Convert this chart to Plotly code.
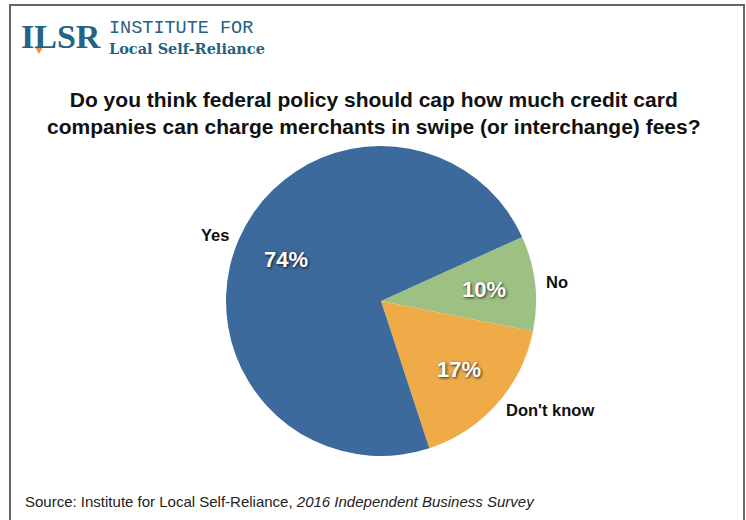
import math
import plotly.graph_objects as go

labels = ["No", "Don't know", "Yes"]
values = [10, 17, 74]
pct_text = ["10%", "17%", "74%"]
colors = ["#9dc183", "#eeab48", "#3d6a9c"]

W, H = 746, 520
cx, cy, r = 381, 301, 155  # pie centre / radius in pixels (from top-left)
start_angle = 65.6
dom_x = [(cx - r) / W, (cx + r) / W]
dom_y = [(H - cy - r) / H, (H - cy + r) / H]

fig = go.Figure()
fig.add_trace(go.Pie(
    labels=labels, values=values, text=pct_text, textinfo="none",
    sort=False, direction="clockwise", rotation=start_angle,
    marker=dict(colors=colors, line=dict(width=0)),
    domain=dict(x=dom_x, y=dom_y), showlegend=False, hoverinfo="label+text",
))

def px_to_paper(x, y):
    return x / W, 1 - y / H

annotations = []
total = sum(values)
cum = 0
for lab, val, pt in zip(labels, values, pct_text):
    mid = math.radians(start_angle + (cum + val / 2) / total * 360)
    cum += val
    s, c = math.sin(mid), math.cos(mid)
    # percentage inside the slice
    px, py = px_to_paper(cx + 0.67 * r * s, cy - 0.67 * r * c)
    annotations.append(dict(text=f"<b>{pt}</b>", x=px, y=py, xref="paper", yref="paper",
                            xanchor="center", yanchor="middle", showarrow=False,
                            font=dict(family="Liberation Sans", size=22, color="white",
                                      shadow="1px 1px 3px rgba(0,0,0,0.8)")))
    # category label outside the slice
    lx, ly = px_to_paper(cx + 1.06 * r * s, cy - 1.06 * r * c)
    annotations.append(dict(text=f"<b>{lab}</b>", x=lx, y=ly, xref="paper", yref="paper",
                            xanchor="left" if s > 0 else "right", yanchor="middle", showarrow=False,
                            font=dict(family="Liberation Sans", size=16.5, color="#111")))

annotations += [
    dict(text="<b>Do you think federal policy should cap how much credit card<br>companies can charge merchants in swipe (or interchange) fees?</b>",
         x=374 / W, y=1 - 113 / H, xref="paper", yref="paper", xanchor="center", yanchor="middle",
         showarrow=False, font=dict(family="Liberation Sans", size=21, color="#111"), align="center"),
    dict(text="Source: Institute for Local Self-Reliance, <i>2016 Independent Business Survey</i>",
         x=23 / W, y=1 - 501 / H, xref="paper", yref="paper", xanchor="left", yanchor="middle",
         showarrow=False, font=dict(family="Liberation Sans", size=15, color="#222")),
    dict(text="<b>ILSR</b>", x=19 / W, y=1 - 37 / H, xref="paper", yref="paper", xanchor="left",
         yanchor="middle", showarrow=False,
         font=dict(family="Liberation Serif", size=34, color="#266283")),
    dict(text="INSTITUTE FOR", x=107 / W, y=1 - 28.5 / H, xref="paper", yref="paper",
         xanchor="left", yanchor="middle", showarrow=False,
         font=dict(family="Liberation Mono", size=18.5, color="#266283")),
    dict(text="<b>Local Self-Reliance</b>", x=107 / W, y=1 - 48.5 / H, xref="paper", yref="paper",
         xanchor="left", yanchor="middle", showarrow=False,
         font=dict(family="DejaVu Serif", size=14.5, color="#266283")),
]

# small orange triangle of the logo (under the L)
tx0, ty0 = px_to_paper(35, 47)
tx1, ty1 = px_to_paper(43, 47)
tx2, ty2 = px_to_paper(39, 54)
shapes = [
    dict(type="rect", xref="paper", yref="paper",
         x0=10 / W, x1=744 / W, y0=-0.05, y1=1 - 5 / H,
         line=dict(color="#666", width=2)),
    dict(type="path", xref="paper", yref="paper",
         path=f"M {tx0} {ty0} L {tx1} {ty1} L {tx2} {ty2} Z",
         fillcolor="#e8904a", line=dict(width=0)),
]

fig.update_layout(
    width=W, height=H, margin=dict(l=0, r=0, t=0, b=0),
    paper_bgcolor="white", plot_bgcolor="white",
    shapes=shapes,
    annotations=annotations,
)
fig.write_html("out.html", config={"displayModeBar": False},
               post_script="document.body.style.margin='0px';")
